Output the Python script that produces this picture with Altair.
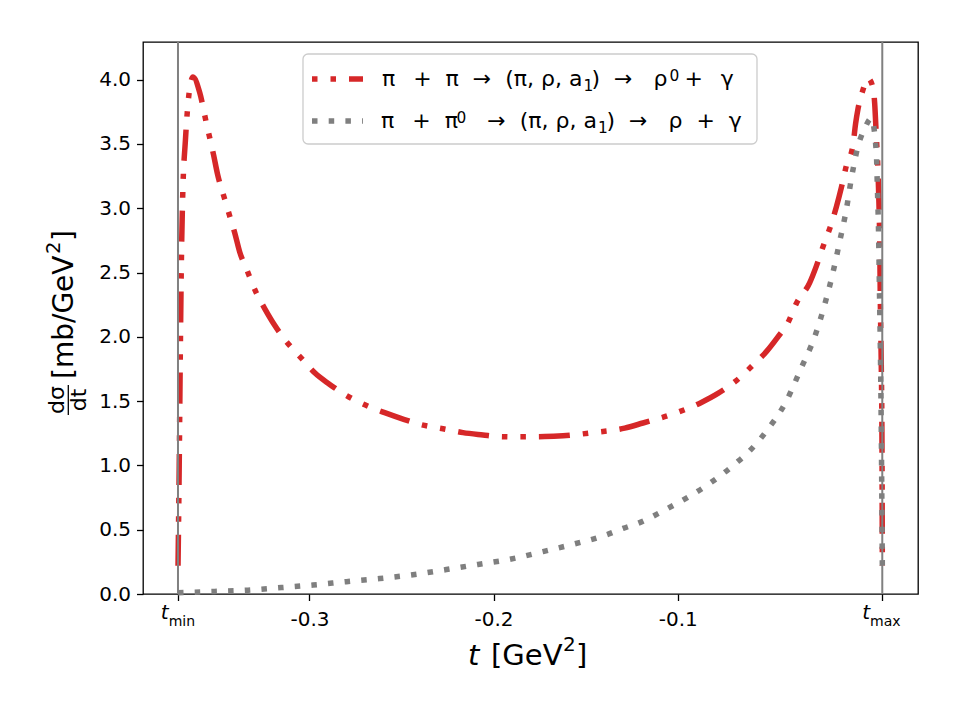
import altair as alt
import pandas as pd

# ---------------- data ----------------
t_min = -0.3714
t_max = 0.0111

red_t = [-0.37138, -0.37073, -0.37019, -0.36954, -0.36883, -0.36736, -0.36541, -0.36324,
         -0.35960, -0.35596, -0.35200, -0.34999, -0.34602, -0.34331, -0.34060, -0.33788,
         -0.33424, -0.32881, -0.32430, -0.31888, -0.31344, -0.30350, -0.29715, -0.28900,
         -0.28178, -0.26821, -0.25914, -0.24920, -0.24013, -0.22563, -0.21662, -0.20576,
         -0.19669, -0.18947, -0.17225, -0.16231, -0.14602, -0.12881, -0.11887, -0.10258,
         -0.08716, -0.07814, -0.06815, -0.05914, -0.05186, -0.04556, -0.04013, -0.03557,
         -0.02835, -0.02471, -0.02112, -0.01656, -0.01385, -0.01113, -0.00842, -0.00483,
         -0.00337, -0.00212, 0.00060, 0.00331, 0.00603, 0.00695, 0.00787, 0.00874,
         0.00929, 0.00967, 0.01005, 0.01059, 0.01092, 0.01113]
red_v = [0.22, 1.0, 1.8, 2.6, 3.1, 3.53, 3.89, 4.02,
         3.90, 3.66, 3.41, 3.27, 3.07, 2.94, 2.81, 2.66,
         2.53, 2.34, 2.22, 2.09, 1.98, 1.82, 1.72, 1.63,
         1.56, 1.46, 1.41, 1.36, 1.32, 1.28, 1.255, 1.237,
         1.224, 1.222, 1.224, 1.23, 1.255, 1.29, 1.33, 1.40,
         1.49, 1.56, 1.66, 1.78, 1.885, 2.00, 2.11, 2.26,
         2.42, 2.55, 2.70, 2.88, 3.01, 3.16, 3.33, 3.49,
         3.66, 3.77, 3.92, 4.01, 3.94, 3.82, 3.56, 3.30,
         3.04, 2.78, 2.26, 1.74, 1.22, 0.22]

gray_t = [-0.37138, -0.35145, -0.33337, -0.31523, -0.29807, -0.27994, -0.26185, -0.24377,
          -0.22563, -0.20847, -0.19126, -0.17317, -0.15596, -0.13874, -0.12973, -0.12159,
          -0.10616, -0.08265, -0.06815, -0.06185, -0.05550, -0.05007, -0.04464, -0.04100,
          -0.03649, -0.03285, -0.02563, -0.02020, -0.01569, -0.01206, -0.00842, -0.00570,
          -0.00212, 0.00152, 0.00516, 0.00787, 0.00842, 0.00912, 0.00967, 0.01021,
          0.01059, 0.01113]
gray_v = [0.01, 0.02, 0.03, 0.05, 0.07, 0.096, 0.12, 0.15,
          0.19, 0.23, 0.27, 0.33, 0.39, 0.46, 0.51, 0.55,
          0.66, 0.86, 1.02, 1.10, 1.20, 1.30, 1.41, 1.50,
          1.64, 1.76, 2.00, 2.25, 2.50, 2.74, 2.99, 3.23,
          3.48, 3.62, 3.70, 3.43, 3.17, 2.78, 2.26, 1.74,
          1.22, 0.21]

x_ticks = [t_min, -0.3, -0.2, -0.1, t_max]
y_ticks = [0.0, 0.5, 1.0, 1.5, 2.0, 2.5, 3.0, 3.5, 4.0]
x_domain = [-0.3904, 0.0305]
y_domain = [0.0, 4.293]

S = "\u00a0"   # non-collapsing normal space
E = "\u2002"   # en space
# legend labels, split where sub/superscripts occur
red_a = "π" + E + S + "+" + S + S + "π" + S + S + "→" + S + S + "(π, ρ, a"
red_b = ")" + S + S + "→" + S + S + S + "ρ"
red_c = "+" + E + S + "γ"
gray_a = "π" + E + S + "+" + S + S + "π"
gray_b = "→" + S + S + "(π, ρ, a"
gray_c = ")" + S + S + "→" + S + S + S + "ρ" + S + S + "+" + S + S + "γ"

RED = "#d62728"
GRAY = "#7f7f7f"
VLINE = "#808080"
FONT = "DejaVu Sans"
red_dash = [31, 13, 5.5, 13, 5.5, 13]
gray_dash = [5.5, 11.2]
LW = 5.5

W, H = 775, 552

red_df = pd.DataFrame({"t": red_t, "v": red_v, "i": range(len(red_t))})
gray_df = pd.DataFrame({"t": gray_t, "v": gray_v, "i": range(len(gray_t))})
vline_df = pd.DataFrame({"t": [t_min, t_max]})
one = pd.DataFrame({"a": [0]})

x_enc = alt.X(
    "t:Q",
    scale=alt.Scale(domain=x_domain, nice=False, zero=False),
    axis=alt.Axis(
        values=x_ticks, title=None,
        labelExpr="(datum.value < -0.35 || datum.value > 0) ? '' : '-' + format(abs(datum.value), '.1f')",
        labelPadding=9,
    ),
)
y_enc = alt.Y(
    "v:Q",
    scale=alt.Scale(domain=y_domain, nice=False, zero=False),
    axis=alt.Axis(values=y_ticks, format=".1f", title=None, labelPadding=6),
)

red_line = alt.Chart(red_df).mark_line(
    color=RED, strokeWidth=LW, strokeDash=red_dash, interpolate="monotone", strokeCap="butt"
).encode(x=x_enc, y=y_enc, order="i:Q")

gray_line = alt.Chart(gray_df).mark_line(
    color=GRAY, strokeWidth=LW, strokeDash=gray_dash, interpolate="monotone", strokeCap="butt"
).encode(x=alt.X("t:Q"), y=alt.Y("v:Q"), order="i:Q")

vlines = alt.Chart(vline_df).mark_rule(color=VLINE, strokeWidth=2).encode(x=alt.X("t:Q"))

# t_min / t_max tick labels (italic t with subscript)
tmin_df = pd.DataFrame({"t": [t_min]})
tmax_df = pd.DataFrame({"t": [t_max]})
tmin_t = alt.Chart(tmin_df).mark_text(text="t", font=FONT, fontStyle="italic", fontSize=20,
                                      align="right", baseline="alphabetic", dx=-9.3).encode(
    x=alt.X("t:Q"), y=alt.value(H + 25))
tmin_s = alt.Chart(tmin_df).mark_text(text="min", font=FONT, fontSize=14,
                                      align="left", baseline="alphabetic", dx=-9.3).encode(
    x=alt.X("t:Q"), y=alt.value(H + 32))
tmax_t = alt.Chart(tmax_df).mark_text(text="t", font=FONT, fontStyle="italic", fontSize=20,
                                      align="right", baseline="alphabetic", dx=-12.2).encode(
    x=alt.X("t:Q"), y=alt.value(H + 25))
tmax_s = alt.Chart(tmax_df).mark_text(text="max", font=FONT, fontSize=14,
                                      align="left", baseline="alphabetic", dx=-12.2).encode(
    x=alt.X("t:Q"), y=alt.value(H + 32))

base = alt.Chart(one)


def txt(text, x, y, size, align="left", baseline="alphabetic", angle=0, style="normal"):
    kw = dict(text=text, font=FONT, fontSize=size, align=align, baseline=baseline, fontStyle=style)
    if angle:
        kw["angle"] = angle
    return base.mark_text(**kw).encode(x=alt.value(x), y=alt.value(y))


# x axis title:  t [GeV^2]
xlab = [
    txt("t", 325, 623, 29, style="italic"),
    txt("[GeV", 348, 623, 29),
    txt("2", 420, 609, 20),
    txt("]", 433, 623, 29),
]
# y axis title:  dσ/dt [mb/GeV^2]
ylab = [
    txt("[mb/GeV", -70, 337, 28, angle=270),
    txt("2", -83.5, 212, 19.6, angle=270),
    txt("]", -70, 199, 28, angle=270),
    txt("dσ", -86, 358, 22, align="center", baseline="middle", angle=270),
    txt("dt", -64, 358, 22, align="center", baseline="middle", angle=270),
]
ylab_bar = base.mark_rule(color="black", strokeWidth=1.3).encode(
    x=alt.value(-74.7), y=alt.value(343), y2=alt.value(373))

# legend
leg_box = base.mark_rect(fill="white", fillOpacity=0.85, stroke="#cccccc", strokeWidth=1.3,
                         cornerRadius=5).encode(
    x=alt.value(160), x2=alt.value(614), y=alt.value(12), y2=alt.value(102))
leg_red = base.mark_rule(color=RED, strokeWidth=LW, strokeDash=red_dash, strokeDashOffset=44,
                         strokeCap="butt").encode(x=alt.value(169), x2=alt.value(220), y=alt.value(37))
leg_gray = base.mark_rule(color=GRAY, strokeWidth=LW, strokeDash=gray_dash,
                          strokeCap="butt").encode(x=alt.value(169), x2=alt.value(220), y=alt.value(79))
leg_txt = [
    txt(red_a, 439.5, 44, 22, align="right"),
    txt("1", 440.5, 49, 15.4),
    txt(red_b, 448.5, 44, 22),
    txt("0", 526.5, 38.5, 15.4),
    txt(red_c, 541.4, 44, 22),
    txt(gray_a, 238, 86, 22),
    txt("0", 313.5, 80.5, 15.4),
    txt(gray_b, 454, 86, 22, align="right"),
    txt("1", 455, 91, 15.4),
    txt(gray_c, 463.5, 86, 22),
]

chart = alt.layer(
    red_line, gray_line, vlines,
    tmin_t, tmin_s, tmax_t, tmax_s,
    *xlab, *ylab, ylab_bar,
    leg_box, leg_red, leg_gray, *leg_txt,
).properties(
    width=W, height=H,
    padding={"left": 143, "top": 42, "right": 42, "bottom": 126},
    autosize=alt.AutoSizeParams(type="none"),
    background="white",
).configure_view(
    stroke="black", strokeWidth=1.3
).configure_axis(
    domain=False, grid=False, tickColor="black", tickWidth=1.3, tickSize=6.5,
    labelFont=FONT, labelFontSize=20, labelColor="black",
).configure_text(color="black")

chart.save("out.html", embed_options={"renderer": "svg", "actions": False})
